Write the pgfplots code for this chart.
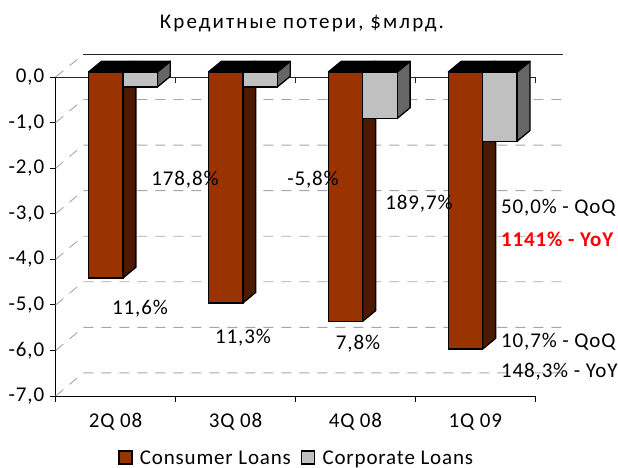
\documentclass[border=0pt]{standalone}
\usepackage{fontspec}
\setmainfont{Carlito}
\usepackage{pgfplots}
\pgfplotsset{compat=1.18}
\definecolor{consumer}{HTML}{993300}
\definecolor{consumerside}{HTML}{4D1A00}
\definecolor{corporate}{HTML}{C0C0C0}
\definecolor{corporateside}{HTML}{666666}
\definecolor{wallgrid}{HTML}{A6A6A6}
\newcommand{\lbl}{\fontsize{21}{23}\selectfont\addfontfeatures{LetterSpace=4}}
\pgfplotsset{
  face/.style={draw=black,line width=1.3pt,line join=round,xshift=7.3pt,yshift=5pt,forget plot},
  frontbar/.style={ybar,bar width=0.287,draw=black,line width=1.3pt,xshift=7.3pt,yshift=5pt,
    legend image code/.code={
      \draw[##1,xshift=-7.3pt,yshift=-5pt,line width=1.3pt] (0pt,-6pt) rectangle (13pt,7pt);
      \path (0pt,0pt) (11pt,0pt);
    },
  },
}
\begin{document}
\begin{tikzpicture}[x=1pt,y=1pt]
\useasboundingbox (0,0) rectangle (618,468);
\begin{axis}[
    at={(55.7pt,72pt)},
    anchor=south west,
    scale only axis,
    width=479.6pt,
    height=319pt,
    xmin=0, xmax=4,
    ymin=-7, ymax=0,
    clip=false,
    axis lines*=left,
    axis line style={black,line width=0.9pt},
    tick style={black,line width=0.9pt},
    tick align=outside,
    major tick length=6pt,
    minor tick length=6pt,
    xtick={0.5,1.5,2.5,3.5},
    xticklabels={2Q 08,3Q 08,4Q 08,1Q 09},
    minor xtick={0,1,2,3,4},
    major x tick style={draw=none},
    ytick={0,-1,-2,-3,-4,-5,-6,-7},
    yticklabels={{0,0},{-1,0},{-2,0},{-3,0},{-4,0},{-5,0},{-6,0},{-7,0}},
    tick label style={font=\lbl},
    xticklabel style={yshift=-8pt},
    yticklabel style={xshift=-2pt},
    unbounded coords=jump,
    legend columns=2,
    legend cell align=left,
    legend style={
      draw=none,fill=none,
      at={(241pt,-62pt)},anchor=center,
      font=\lbl,
      /tikz/every even column/.style={column sep=8pt},
    },
]
% back wall and floor lines
\addplot[wallgrid,line width=0.9pt,dash pattern=on 10pt off 8pt,forget plot] coordinates {
  (0,0)(0.23,0.494) (nan,nan)
  (0,-1)(0.23,-0.494)(4.23,-0.494) (nan,nan)
  (0,-2)(0.23,-1.494)(4.23,-1.494) (nan,nan)
  (0,-3)(0.23,-2.494)(4.23,-2.494) (nan,nan)
  (0,-4)(0.23,-3.494)(4.23,-3.494) (nan,nan)
  (0,-5)(0.23,-4.494)(4.23,-4.494) (nan,nan)
  (0,-6)(0.23,-5.494)(4.23,-5.494) (nan,nan)
  (0,-7)(0.23,-6.494)(4.23,-6.494)
};
\addplot[black!85,line width=0.9pt,forget plot] coordinates {(0.23,0.494)(4.23,0.494)};
\addplot[black!85,line width=0.9pt,forget plot] coordinates {(0,0)(4,0)};
\addplot[ycomb,black!85,line width=0.9pt,forget plot] coordinates {(1,-0.13)(2,-0.13)(3,-0.13)(4,-0.13)};
% consumer side faces
\addplot[face,fill=consumerside] coordinates {(0.5,0)(0.608,0.235)(0.608,-4.285)(0.5,-4.52)} --cycle;
\addplot[face,fill=consumerside] coordinates {(1.5,0)(1.608,0.235)(1.608,-4.835)(1.5,-5.07)} --cycle;
\addplot[face,fill=consumerside] coordinates {(2.5,0)(2.608,0.235)(2.608,-5.235)(2.5,-5.47)} --cycle;
\addplot[face,fill=consumerside] coordinates {(3.5,0)(3.608,0.235)(3.608,-5.845)(3.5,-6.08)} --cycle;
% corporate side faces
\addplot[face,fill=corporateside] coordinates {(0.787,0)(0.895,0.235)(0.895,-0.095)(0.787,-0.33)} --cycle;
\addplot[face,fill=corporateside] coordinates {(1.787,0)(1.895,0.235)(1.895,-0.095)(1.787,-0.33)} --cycle;
\addplot[face,fill=corporateside] coordinates {(2.787,0)(2.895,0.235)(2.895,-0.785)(2.787,-1.02)} --cycle;
\addplot[face,fill=corporateside] coordinates {(3.787,0)(3.895,0.235)(3.895,-1.285)(3.787,-1.52)} --cycle;
% top faces
\addplot[face,fill=black] coordinates {(0.213,0)(0.321,0.235)(0.895,0.235)(0.787,0)} --cycle;
\addplot[face,fill=black] coordinates {(1.213,0)(1.321,0.235)(1.895,0.235)(1.787,0)} --cycle;
\addplot[face,fill=black] coordinates {(2.213,0)(2.321,0.235)(2.895,0.235)(2.787,0)} --cycle;
\addplot[face,fill=black] coordinates {(3.213,0)(3.321,0.235)(3.895,0.235)(3.787,0)} --cycle;
% front faces
\addplot[frontbar,bar shift=-0.1435,fill=consumer] coordinates {(0.5,-4.52)(1.5,-5.07)(2.5,-5.47)(3.5,-6.08)};
\addplot[frontbar,bar shift=0.1435,fill=corporate] coordinates {(0.5,-0.33)(1.5,-0.33)(2.5,-1.02)(3.5,-1.52)};
\legend{Consumer Loans,Corporate Loans}
\end{axis}
% texts, positions in picture pixels
\begin{scope}[every node/.style={font=\lbl,inner sep=0pt}]
\node[font=\lbl\addfontfeatures{LetterSpace=10}] at (302,445) {Кредитные потери, \$млрд.};
\node at (185,288) {178,8\%};
\node at (313,288) {-5,8\%};
\node at (419,264) {189,7\%};
\node[anchor=west] at (501,260) {50,0\% - QoQ};
\node[anchor=west,text=red,font=\bfseries\lbl] at (501,229) {1141\% - YoY};
\node at (140,159) {11,6\%};
\node at (243,130) {11,3\%};
\node at (358,124) {7,8\%};
\node[anchor=west] at (501,126) {10,7\% - QoQ};
\node[anchor=west] at (501,96) {148,3\% - YoY};
\end{scope}
\end{tikzpicture}
\end{document}
